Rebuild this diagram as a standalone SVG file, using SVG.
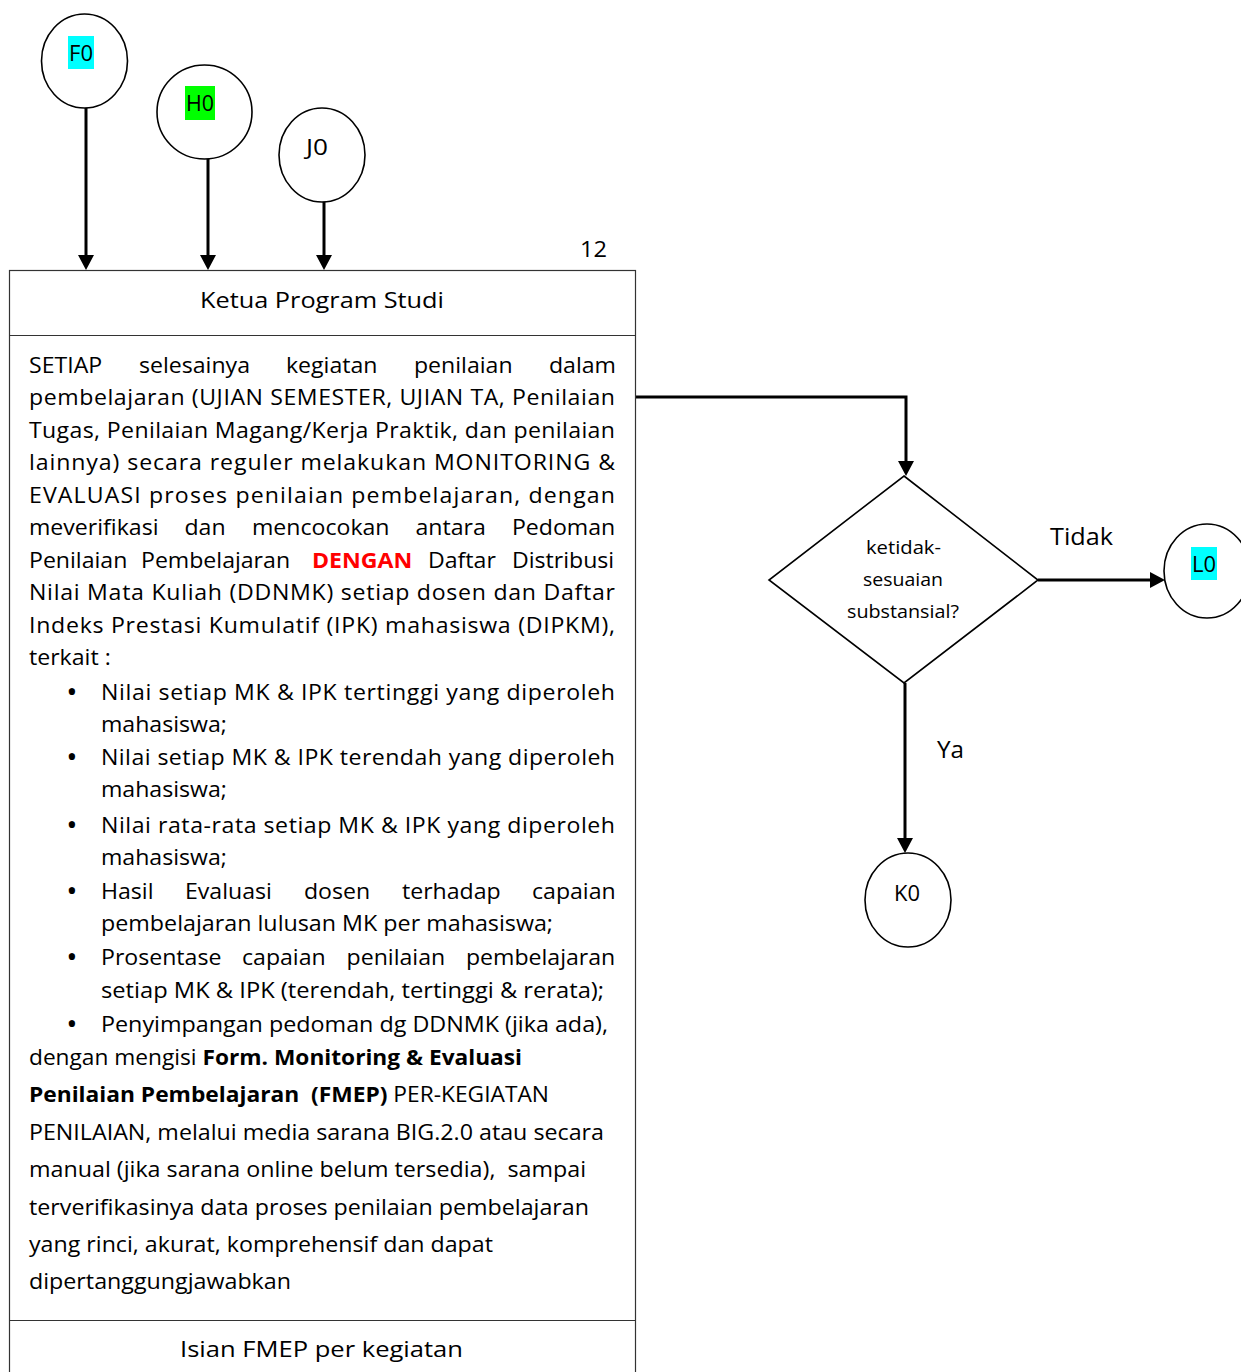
<svg xmlns="http://www.w3.org/2000/svg" width="1241" height="1372" viewBox="0 0 1241 1372">
<style>
text{font-family:"Open Sans","Noto Sans",sans-serif;fill:#000}
.b{font-size:21px}
.bd{font-weight:bold}
.red{fill:#ff0000;font-weight:bold}
.c{text-anchor:middle}
.bul{font-size:30px;text-anchor:middle}
.node{fill:#fff;stroke:#000;stroke-width:1.6}
.conn{fill:none;stroke:#000;stroke-width:3}
.box{fill:#fff;stroke:#333;stroke-width:1.2}
</style>
<defs>
<marker id="ah" markerWidth="16" markerHeight="16" refX="7" refY="8" orient="auto" markerUnits="userSpaceOnUse" viewBox="0 0 16 16">
<path d="M0,0 L15,8 L0,16 Z" fill="#000"/>
</marker>
</defs>
<rect width="1241" height="1372" fill="#fff"/>

<g id="connectors">
<line class="conn" x1="86" y1="108" x2="86" y2="262" marker-end="url(#ah)"/>
<line class="conn" x1="208" y1="159" x2="208" y2="262" marker-end="url(#ah)"/>
<line class="conn" x1="324" y1="202" x2="324" y2="262" marker-end="url(#ah)"/>
<polyline class="conn" points="635,397 906,397 906,468" marker-end="url(#ah)"/>
<line class="conn" x1="1038" y1="580" x2="1157" y2="580" marker-end="url(#ah)"/>
<line class="conn" x1="905" y1="683" x2="905" y2="845" marker-end="url(#ah)"/>
<text x="1050" y="545" style="font-size:23px" textLength="63" lengthAdjust="spacingAndGlyphs">Tidak</text>
<text x="937" y="758" style="font-size:23px" textLength="27" lengthAdjust="spacingAndGlyphs">Ya</text>
</g>

<g id="F0">
<ellipse class="node" cx="84.5" cy="61" rx="43" ry="47"/>
<rect x="68" y="36" width="26" height="33" fill="#00ffff"/>
<text x="69" y="61" style="font-size:21px" textLength="24" lengthAdjust="spacingAndGlyphs">F0</text>
</g>
<g id="H0">
<ellipse class="node" cx="204.5" cy="112" rx="47.5" ry="47"/>
<rect x="185" y="86" width="30" height="34" fill="#00ff00"/>
<text x="186" y="111" style="font-size:21px" textLength="28" lengthAdjust="spacingAndGlyphs">H0</text>
</g>
<g id="J0">
<ellipse class="node" cx="322" cy="155" rx="43" ry="47"/>
<text x="306" y="155" style="font-size:21px" textLength="22" lengthAdjust="spacingAndGlyphs">J0</text>
</g>

<g id="process">
<rect class="box" x="9.5" y="270.5" width="626" height="1110"/>
<line x1="9.5" y1="335.5" x2="635.5" y2="335.5" stroke="#333" stroke-width="1.2"/>
<line x1="9.5" y1="1320.5" x2="635.5" y2="1320.5" stroke="#333" stroke-width="1.2"/>
<text x="580" y="257" style="font-size:21px" textLength="27" lengthAdjust="spacingAndGlyphs">12</text>
<text x="200" y="308" style="font-size:21px" textLength="244" lengthAdjust="spacingAndGlyphs">Ketua Program Studi</text>
<text x="180" y="1357" style="font-size:21px" textLength="283" lengthAdjust="spacingAndGlyphs">Isian FMEP per kegiatan</text>

<text x="72" y="702" class="bul">•</text>
<text x="72" y="767" class="bul">•</text>
<text x="72" y="835" class="bul">•</text>
<text x="72" y="901" class="bul">•</text>
<text x="72" y="967" class="bul">•</text>
<text x="72" y="1034" class="bul">•</text>

<g class="b" transform="scale(1.1,1)">
<text y="373"><tspan x="26.36">SETIAP</tspan><tspan x="126.36">selesainya</tspan><tspan x="260">kegiatan</tspan><tspan x="376.36">penilaian</tspan><tspan x="499.09">dalam</tspan></text>
<text x="26.36" y="405" textLength="532.7" lengthAdjust="spacing">pembelajaran (UJIAN SEMESTER, UJIAN TA, Penilaian</text>
<text x="26.36" y="438" textLength="532.7" lengthAdjust="spacing">Tugas, Penilaian Magang/Kerja Praktik, dan penilaian</text>
<text x="26.36" y="470" textLength="532.7" lengthAdjust="spacing">lainnya) secara reguler melakukan MONITORING &amp;</text>
<text x="26.36" y="503" textLength="532.7" lengthAdjust="spacing">EVALUASI proses penilaian pembelajaran, dengan</text>
<text y="535"><tspan x="26.36">meverifikasi</tspan><tspan x="167.73">dan</tspan><tspan x="229.09">mencocokan</tspan><tspan x="377.73">antara</tspan><tspan x="465.45">Pedoman</tspan></text>
<text y="568"><tspan x="26.36">Penilaian</tspan><tspan x="128.18">Pembelajaran</tspan><tspan x="283.64" class="red">DENGAN</tspan><tspan x="389.09">Daftar</tspan><tspan x="465.45">Distribusi</tspan></text>
<text x="26.36" y="600" textLength="532.7" lengthAdjust="spacing">Nilai Mata Kuliah (DDNMK) setiap dosen dan Daftar</text>
<text x="26.36" y="633" textLength="532.7" lengthAdjust="spacing">Indeks Prestasi Kumulatif (IPK) mahasiswa (DIPKM),</text>
<text x="26.36" y="665">terkait :</text>

<text x="91.82" y="700" textLength="467.3" lengthAdjust="spacing">Nilai setiap MK &amp; IPK tertinggi yang diperoleh</text>
<text x="91.82" y="732">mahasiswa;</text>
<text x="91.82" y="765" textLength="467.3" lengthAdjust="spacing">Nilai setiap MK &amp; IPK terendah yang diperoleh</text>
<text x="91.82" y="797">mahasiswa;</text>
<text x="91.82" y="833" textLength="467.3" lengthAdjust="spacing">Nilai rata-rata setiap MK &amp; IPK yang diperoleh</text>
<text x="91.82" y="865">mahasiswa;</text>
<text y="899"><tspan x="91.82">Hasil</tspan><tspan x="168.18">Evaluasi</tspan><tspan x="276.36">dosen</tspan><tspan x="365.45">terhadap</tspan><tspan x="483.64">capaian</tspan></text>
<text x="91.82" y="931" textLength="410.9" lengthAdjust="spacingAndGlyphs">pembelajaran lulusan MK per mahasiswa;</text>
<text y="965"><tspan x="91.82">Prosentase</tspan><tspan x="220">capaian</tspan><tspan x="315.09">penilaian</tspan><tspan x="423.64">pembelajaran</tspan></text>
<text x="91.82" y="998" textLength="457.3" lengthAdjust="spacingAndGlyphs">setiap MK &amp; IPK (terendah, tertinggi &amp; rerata);</text>
<text x="91.82" y="1032" textLength="460.9" lengthAdjust="spacingAndGlyphs">Penyimpangan pedoman dg DDNMK (jika ada),</text>
<text x="26.36" y="1065" textLength="448.2" lengthAdjust="spacingAndGlyphs">dengan mengisi <tspan class="bd">Form. Monitoring &amp; Evaluasi</tspan></text>
<text x="26.36" y="1102" xml:space="preserve" textLength="472.7" lengthAdjust="spacingAndGlyphs"><tspan class="bd">Penilaian Pembelajaran  (FMEP)</tspan> PER-KEGIATAN</text>
<text x="26.36" y="1140" textLength="522.7" lengthAdjust="spacingAndGlyphs">PENILAIAN, melalui media sarana BIG.2.0 atau secara</text>
<text x="26.36" y="1177" xml:space="preserve" textLength="506.4" lengthAdjust="spacingAndGlyphs">manual (jika sarana online belum tersedia),  sampai</text>
<text x="26.36" y="1215" textLength="509.1" lengthAdjust="spacingAndGlyphs">terverifikasinya data proses penilaian pembelajaran</text>
<text x="26.36" y="1252" textLength="421.8" lengthAdjust="spacingAndGlyphs">yang rinci, akurat, komprehensif dan dapat</text>
<text x="26.36" y="1289" textLength="238.2" lengthAdjust="spacingAndGlyphs">dipertanggungjawabkan</text>
</g>
</g>

<g id="decision">
<polygon class="node" points="904,476 1038,580 904,683 769,580"/>
<text x="866" y="554" style="font-size:18px" textLength="75" lengthAdjust="spacingAndGlyphs">ketidak-</text>
<text x="863" y="586" style="font-size:18px" textLength="80" lengthAdjust="spacingAndGlyphs">sesuaian</text>
<text x="847" y="618" style="font-size:18px" textLength="112" lengthAdjust="spacingAndGlyphs">substansial?</text>
</g>

<g id="L0">
<ellipse class="node" cx="1207" cy="571" rx="43" ry="47"/>
<rect x="1191" y="547" width="26" height="33" fill="#00ffff"/>
<text x="1192" y="572" style="font-size:21px" textLength="24" lengthAdjust="spacingAndGlyphs">L0</text>
</g>
<g id="K0">
<ellipse class="node" cx="908" cy="900" rx="43" ry="47"/>
<text x="894" y="901" style="font-size:21px" textLength="26" lengthAdjust="spacingAndGlyphs">K0</text>
</g>
</svg>
